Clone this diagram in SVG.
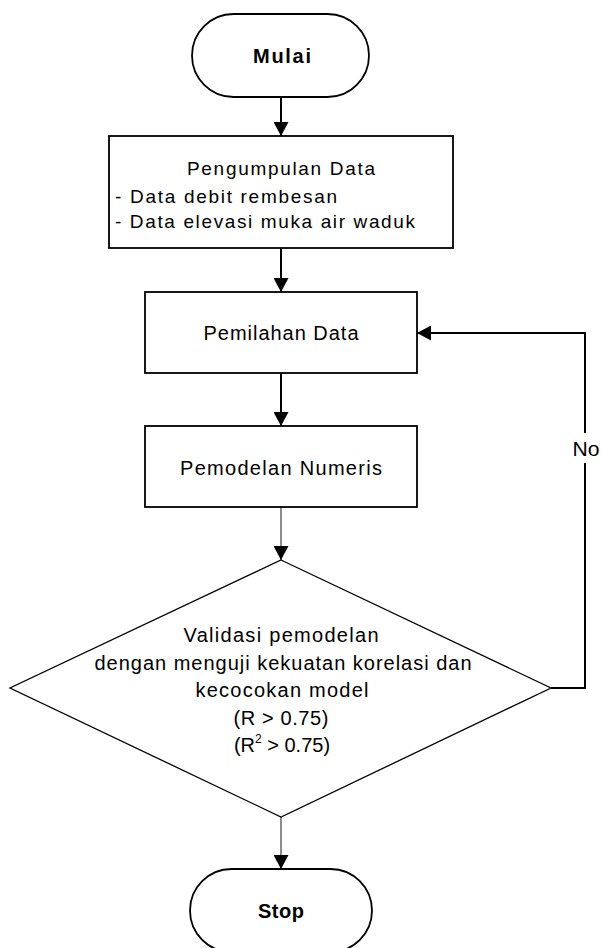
<svg xmlns="http://www.w3.org/2000/svg" width="601" height="948" viewBox="0 0 601 948">
<defs>
<marker id="arr" markerUnits="userSpaceOnUse" markerWidth="15" markerHeight="15" refX="14" refY="7.5" orient="auto" viewBox="0 0 15 15">
<path d="M0,0 L14,7.5 L0,15 z" fill="#000"/>
</marker>
<style>
.shape{fill:#fff;stroke:#000;stroke-width:1.8}
.dia{fill:#fff;stroke:#000;stroke-width:1.3}
.t{font-family:"Liberation Sans",Arial,sans-serif;font-size:20px;fill:#000}
.s{font-size:19px}
.b{font-weight:bold;font-size:20px}
.c{text-anchor:middle}
.ln{fill:none;stroke:#000;stroke-width:2}
.gl{fill:none;stroke:#666;stroke-width:1.5}
</style>
</defs>
<rect width="601" height="948" fill="#fff"/>
<g id="connectors">
<path class="ln" d="M281,97 V136" marker-end="url(#arr)"/>
<path class="ln" d="M281,248 V292" marker-end="url(#arr)"/>
<path class="ln" d="M281,373 V426" marker-end="url(#arr)"/>
<path class="gl" d="M281,507 V560" marker-end="url(#arr)"/>
<path class="gl" d="M281,817 V869" marker-end="url(#arr)"/>
<path class="ln" d="M551,688 H585 V463"/>
<path class="ln" d="M585,433 V333 H417" marker-end="url(#arr)"/>
<text class="t c" x="586" y="456" textLength="27" lengthAdjust="spacingAndGlyphs">No</text>
</g>
<g id="mulai">
<rect class="shape" x="192" y="14" width="177" height="83" rx="41.5" ry="41.5"/>
<text class="t b c" x="282" y="63" textLength="58">Mulai</text>
</g>
<g id="pengumpulan">
<rect class="shape" x="109" y="136" width="344" height="112"/>
<text class="t s c" x="281" y="175" textLength="188">Pengumpulan Data</text>
<text class="t s" x="115" y="203" textLength="222">- Data debit rembesan</text>
<text class="t s" x="115" y="228" textLength="300">- Data elevasi muka air waduk</text>
</g>
<g id="pemilahan">
<rect class="shape" x="145" y="292" width="272" height="81"/>
<text class="t c" x="281" y="340" textLength="155">Pemilahan Data</text>
</g>
<g id="pemodelan">
<rect class="shape" x="145" y="426" width="272" height="81"/>
<text class="t c" x="281" y="475" textLength="202">Pemodelan Numeris</text>
</g>
<g id="validasi">
<polygon class="dia" points="281,560 551,688 281,817 10,688"/>
<text class="t c" x="281" y="642" textLength="195">Validasi pemodelan</text>
<text class="t c" x="283" y="670" textLength="377">dengan menguji kekuatan korelasi dan</text>
<text class="t c" x="282" y="697" textLength="173">kecocokan model</text>
<text class="t c" x="281" y="725" textLength="95">(R &gt; 0.75)</text>
<text class="t c" x="282" y="752">(R<tspan font-size="12" dy="-9">2</tspan><tspan dy="9"> &gt; 0.75)</tspan></text>
</g>
<g id="stop">
<rect class="shape" x="190" y="869" width="182" height="83" rx="41.5" ry="41.5"/>
<text class="t b c" x="281" y="918" textLength="46">Stop</text>
</g>
</svg>
